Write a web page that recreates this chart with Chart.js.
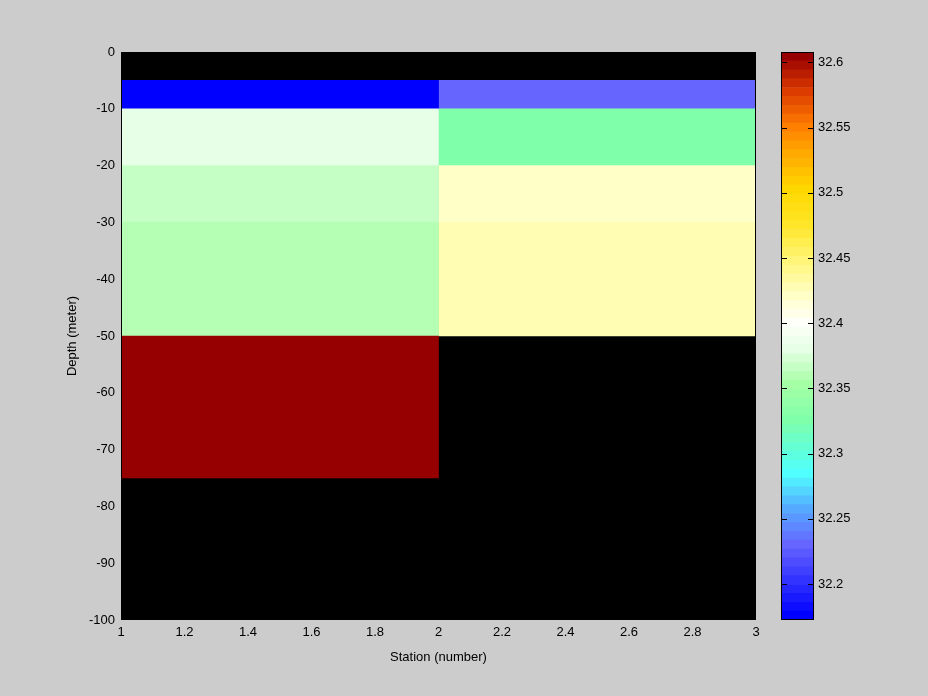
<!DOCTYPE html>
<html>
<head>
<meta charset="utf-8">
<script src="https://cdn.jsdelivr.net/npm/chart.js@4/dist/chart.umd.min.js"></script>
<style>
html,body{margin:0;padding:0;background:#cccccc;}
#wrap{position:relative;width:928px;height:696px;background:#cccccc;overflow:hidden;}
#main{position:absolute;left:0;top:0;width:770px;height:696px;}
#cbar{position:absolute;left:770px;top:0;width:158px;height:696px;}
</style>
</head>
<body>
<div id="wrap">
<canvas id="main" width="770" height="696"></canvas>
<canvas id="cbar" width="158" height="696"></canvas>
</div>
<script>
// ---- data ----
const stations = [1, 2, 3];                                   // station edges
const depthEdges = [0, -5, -10, -20, -30, -50, -75, -100];     // depth edges (m)
const salinityStation1 = [null, 32.1725, 32.380, 32.367, 32.360, 32.608, null];
const salinityStation2 = [null, 32.230, 32.325, 32.420, 32.430, null, null];
const colorMin = 32.1725;
const colorMax = 32.608;
const xTickValues = [1, 1.2, 1.4, 1.6, 1.8, 2, 2.2, 2.4, 2.6, 2.8, 3];
const yTickValues = [0, -10, -20, -30, -40, -50, -60, -70, -80, -90, -100];
const colorbarTicks = [32.2, 32.25, 32.3, 32.35, 32.4, 32.45, 32.5, 32.55, 32.6];
const colorbarTickLabels = ['32.2', '32.25', '32.3', '32.35', '32.4', '32.45', '32.5', '32.55', '32.6'];

// ---- colormap (64 levels) ----
const cmapAnchors = [
  [0, [0, 0, 255]], [8, [102, 102, 255]], [12, [85, 170, 255]], [16, [80, 255, 255]],
  [19, [100, 255, 210]], [22, [128, 255, 170]], [26, [165, 255, 165]], [30, [230, 255, 230]],
  [33, [255, 255, 250]], [36, [255, 255, 200]], [40, [255, 245, 120]], [44, [255, 230, 40]],
  [48, [255, 215, 0]], [52, [255, 170, 0]], [55, [255, 128, 0]], [59, [220, 60, 0]], [63, [150, 0, 0]]
];
const NC = 64;
const cmap = [];
for (let i = 0; i < NC; i++) {
  let a = 0;
  while (a < cmapAnchors.length - 2 && cmapAnchors[a + 1][0] <= i) a++;
  const [i0, c0] = cmapAnchors[a], [i1, c1] = cmapAnchors[a + 1];
  const t = Math.min(1, Math.max(0, (i - i0) / (i1 - i0)));
  const c = c0.map((v, k) => Math.round(v + (c1[k] - v) * t));
  cmap.push(`rgb(${c[0]},${c[1]},${c[2]})`);
}
function colorFor(v) {
  let idx = Math.floor((v - colorMin) / (colorMax - colorMin) * NC);
  idx = Math.max(0, Math.min(NC - 1, idx));
  return cmap[idx];
}

Chart.defaults.font.family = "'Liberation Sans', Arial, Helvetica, sans-serif";
Chart.defaults.font.size = 13;
Chart.defaults.color = '#000000';

const cellLabels = stations.slice(0, -1).map((s, i) => `${s}-${stations[i + 1]}`);

function columnDataset(values, col) {
  const pts = [], cols = [];
  values.forEach((v, k) => {
    if (v === null) return;
    pts.push({ x: cellLabels[col], y: [depthEdges[k + 1], depthEdges[k]] });
    cols.push(colorFor(v));
  });
  return {
    data: pts, backgroundColor: cols, borderWidth: 0, grouped: false,
    barPercentage: 1, categoryPercentage: 1, xAxisID: 'xc', yAxisID: 'y'
  };
}

const plotBg = {
  id: 'plotBg',
  beforeDatasetsDraw(chart) {
    const { ctx, chartArea: a } = chart;
    ctx.save(); ctx.fillStyle = '#000000';
    ctx.fillRect(a.left, a.top, a.right - a.left, a.bottom - a.top);
    ctx.restore();
  },
  afterDraw(chart) {
    const { ctx, chartArea: a } = chart;
    ctx.save(); ctx.strokeStyle = '#000000'; ctx.lineWidth = 1;
    ctx.strokeRect(a.left + 0.5, a.top + 0.5, a.right - a.left - 1, a.bottom - a.top - 1);
    ctx.restore();
  }
};

new Chart(document.getElementById('main'), {
  type: 'bar',
  data: { labels: cellLabels, datasets: [columnDataset(salinityStation1, 0), columnDataset(salinityStation2, 1)] },
  options: {
    responsive: false, animation: false,
    layout: { padding: { top: 52, right: 14, left: 0, bottom: 0 } },
    plugins: { legend: { display: false }, tooltip: { enabled: false } },
    scales: {
      xc: { type: 'category', display: false, offset: true, grid: { offset: true } },
      x: {
        type: 'linear', position: 'bottom', min: stations[0], max: stations[stations.length - 1], offset: false,
        grid: { display: false, drawTicks: false, offset: false }, border: { display: false },
        afterBuildTicks(s) { s.ticks = xTickValues.map(v => ({ value: v })); },
        ticks: { padding: 5, maxRotation: 0, autoSkip: false, callback: v => String(v) },
        title: { display: true, text: 'Station (number)', padding: { top: 0, bottom: 31 } },
        afterFit(s) { s.height = 76; }
      },
      y: {
        type: 'linear', min: depthEdges[depthEdges.length - 1], max: depthEdges[0],
        grid: { display: false, drawTicks: false }, border: { display: false },
        afterBuildTicks(s) { s.ticks = yTickValues.map(v => ({ value: v })); },
        ticks: { padding: 6, autoSkip: false, callback: v => String(v) },
        title: { display: true, text: 'Depth (meter)', padding: { top: 65, bottom: 0 } },
        afterFit(s) { s.width = 121; }
      }
    }
  },
  plugins: [plotBg]
});

const cbarTicksPlugin = {
  id: 'cbarTicks',
  afterDraw(chart) {
    const { ctx, chartArea: a } = chart;
    const ys = chart.scales.y;
    ctx.save(); ctx.strokeStyle = '#000000'; ctx.lineWidth = 1;
    ctx.strokeRect(a.left + 0.5, a.top + 0.5, a.right - a.left - 1, a.bottom - a.top - 1);
    colorbarTicks.forEach(v => {
      const y = Math.round(ys.getPixelForValue(v)) + 0.5;
      ctx.beginPath();
      ctx.moveTo(a.left, y); ctx.lineTo(a.left + 6, y);
      ctx.moveTo(a.right - 6, y); ctx.lineTo(a.right, y);
      ctx.stroke();
    });
    ctx.restore();
  }
};

const cbarDatasets = cmap.map((c, i) => ({
  data: [[colorMin + (colorMax - colorMin) * i / NC, colorMin + (colorMax - colorMin) * (i + 1) / NC]],
  backgroundColor: c, borderWidth: 0, grouped: false, barPercentage: 1, categoryPercentage: 1
}));

new Chart(document.getElementById('cbar'), {
  type: 'bar',
  data: { labels: ['colorbar'], datasets: cbarDatasets },
  options: {
    responsive: false, animation: false,
    layout: { padding: { top: 52, right: 0, left: 11, bottom: 76 } },
    plugins: { legend: { display: false }, tooltip: { enabled: false } },
    scales: {
      x: { display: false, offset: true },
      y: {
        position: 'right', min: colorMin, max: colorMax,
        grid: { display: false, drawTicks: false }, border: { display: false },
        afterBuildTicks(s) { s.ticks = colorbarTicks.map(v => ({ value: v })); },
        ticks: { padding: 4, autoSkip: false, callback: (v, i) => colorbarTickLabels[i] },
        afterFit(s) { s.width = 114; }
      }
    }
  },
  plugins: [cbarTicksPlugin]
});
</script>
</body>
</html>
